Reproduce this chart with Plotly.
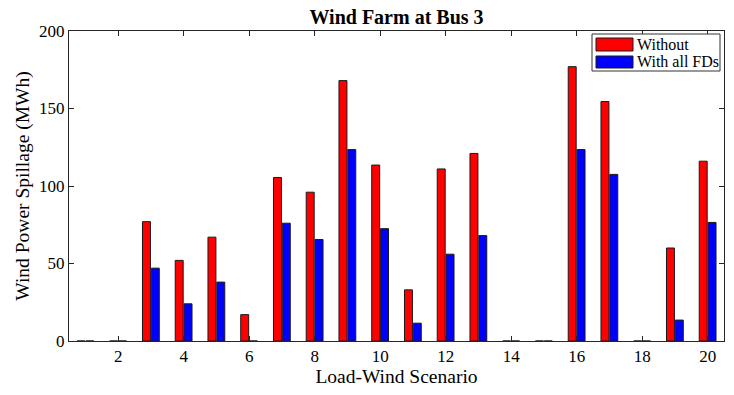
import plotly.graph_objects as go

# Load-wind scenarios and wind power spillage (MWh) at Bus 3
scenarios = list(range(1, 21))
without_fd = [0, 0, 77, 52, 67, 17, 105.5, 96, 168, 113.5, 33, 111, 121, 0, 0, 177, 154.5, 0, 60, 116]
with_all_fds = [0, 0, 47, 24, 38, 0, 76, 65.5, 123.5, 72.5, 11.5, 56, 68, 0, 0, 123.5, 107.5, 0, 13.5, 76.5]
series_names = ["Without", "With all FDs"]
series_colors = ["#ff0000", "#0000ff"]

x_ticks = list(range(2, 21, 2))
y_ticks = [0, 50, 100, 150, 200]

FONT = "Liberation Serif, Times New Roman, serif"

fig = go.Figure()
for name, vals, col in zip(series_names, [without_fd, with_all_fds], series_colors):
    fig.add_trace(go.Bar(
        x=scenarios, y=vals, name=name,
        marker=dict(color=col, line=dict(color="#1a1a1a", width=1)),
        showlegend=False,
    ))

# plot-area geometry in pixels (used for the hand-built legend box)
W, H = 734, 395
L, R, T, B = 69, 10, 31, 54
pw, ph = W - L - R, H - T - B


def px(xp):
    return (xp - L) / pw


def py(yp):
    return (H - B - yp) / ph


shapes = [dict(type="rect", xref="paper", yref="paper",
               x0=px(592), x1=px(720), y0=py(71), y1=py(34),
               line=dict(color="#333333", width=1), fillcolor="white", layer="above")]
annotations = []
rows = [(38, 51), (56, 68)]
for (y0, y1), name, col in zip(rows, series_names, series_colors):
    shapes.append(dict(type="rect", xref="paper", yref="paper",
                       x0=px(596), x1=px(633), y0=py(y1), y1=py(y0),
                       line=dict(color="#1a1a1a", width=1), fillcolor=col, layer="above"))
    annotations.append(dict(xref="paper", yref="paper", x=px(635), y=py((y0 + y1) / 2),
                            text=name, showarrow=False, xanchor="left", yanchor="middle",
                            font=dict(family=FONT, size=16, color="black")))

axis_common = dict(
    showline=True, linecolor="#262626", linewidth=1, mirror="ticks",
    ticks="inside", ticklen=5, tickcolor="#262626", tickwidth=1,
    showgrid=False, zeroline=False,
    tickfont=dict(family=FONT, size=17, color="black"),
)

fig.update_layout(
    width=W, height=H,
    margin=dict(l=L, r=R, t=T, b=B),
    paper_bgcolor="white", plot_bgcolor="white",
    barmode="group", bargap=0.46, bargroupgap=0.1,
    title=dict(text="<b>Wind Farm at Bus 3</b>", x=(L + pw / 2) / W, xanchor="center",
               y=1 - 17 / H, yanchor="middle",
               font=dict(family=FONT, size=20, color="black")),
    xaxis=dict(range=[0.5, 20.5], tickvals=x_ticks,
               title=dict(text="Load-Wind Scenario", standoff=3,
                          font=dict(family=FONT, size=19.5, color="black")),
               **axis_common),
    yaxis=dict(range=[0, 200], tickvals=y_ticks,
               title=dict(text="Wind Power Spillage (MWh)", standoff=4,
                          font=dict(family=FONT, size=19.5, color="black")),
               **axis_common),
    shapes=shapes, annotations=annotations,
)

fig.write_html("out.html")
